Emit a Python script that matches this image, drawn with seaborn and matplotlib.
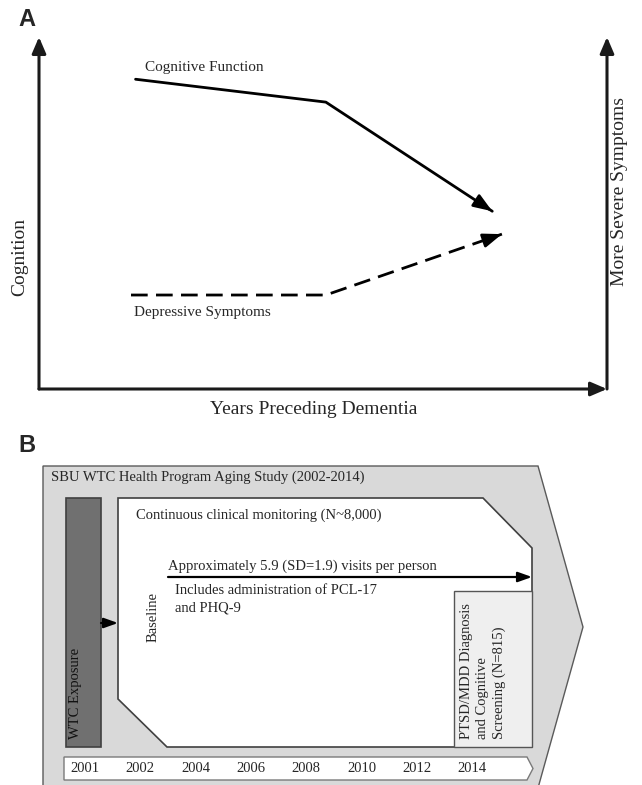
import numpy as np
import pandas as pd
import matplotlib
matplotlib.use("Agg")
import matplotlib.pyplot as plt
from matplotlib.patches import Polygon, Rectangle
import seaborn as sns

# Panel A: skema lintasan (satuan bebas, 0-10 di kedua sumbu)
waktu_kognisi = [1.7, 5.05, 7.98]
nilai_kognisi = [8.8, 8.15, 5.05]
waktu_depresi = [1.62, 5.05, 8.15]
nilai_depresi = [2.67, 2.67, 4.4]

# Panel B: garis waktu studi
tahun = ["2001", "2002", "2004", "2006", "2008", "2010", "2012", "2014"]
judul_studi = "SBU WTC Health Program Aging Study (2002-2014)"
teks_monitoring = "Continuous clinical monitoring (N~8,000)"
teks_kunjungan = "Approximately 5.9 (SD=1.9) visits per person"
teks_instrumen = ["Includes administration of PCL-17", "and PHQ-9"]
teks_skrining = "PTSD/MDD Diagnosis\nand Cognitive\nScreening (N=815)"

W, H = 642, 785

sns.set_theme(style="white")
plt.rcParams["font.family"] = ["Liberation Serif", "DejaVu Serif"]


def px(x, y):
    """koordinat piksel (atas-kiri) -> fraksi figure"""
    return x / W, 1 - y / H


def pasang_panah(ax, xs, ys, lw=2.0):
    # kepala panah di ujung garis, searah segmen terakhir
    ujung = np.array([xs[-1], ys[-1]])
    sebelum = np.array([xs[-2], ys[-2]])
    ekor = ujung - 0.08 * (ujung - sebelum)
    ax.annotate("", xy=ujung, xytext=ekor,
                arrowprops=dict(arrowstyle="-|>,head_length=0.8,head_width=0.3",
                                color="black", lw=lw, shrinkA=0, shrinkB=0,
                                mutation_scale=14))


fig = plt.figure(figsize=(W / 100, H / 100), dpi=100)

# ---------------- Panel A ----------------
ax_a = fig.add_axes([39 / W, 1 - 389 / H, 568 / W, 352 / H])
ax_a.set_xlim(0, 10)
ax_a.set_ylim(0, 10)
ax_a.axis("off")

df_kog = pd.DataFrame({"x": waktu_kognisi, "y": nilai_kognisi})
df_dep = pd.DataFrame({"x": waktu_depresi, "y": nilai_depresi})
sns.lineplot(data=df_kog, x="x", y="y", ax=ax_a, color="black", linewidth=2.0, sort=False)
sns.lineplot(data=df_dep, x="x", y="y", ax=ax_a, color="black", linewidth=2.0, sort=False)
ax_a.lines[-1].set_dashes([6, 3])
ax_a.lines[-1].set_dash_capstyle("butt")
pasang_panah(ax_a, waktu_kognisi, nilai_kognisi)
pasang_panah(ax_a, waktu_depresi, nilai_depresi)

gaya_sumbu = dict(arrowstyle="-|>,head_length=0.7,head_width=0.3", color="#1a1a1a",
                  lw=2.2, shrinkA=0, shrinkB=0, mutation_scale=14)
for awal, akhir in [((0, 0), (0, 1)), ((0, 0), (1, 0)), ((1, 0), (1, 1))]:
    ax_a.annotate("", xy=akhir, xytext=awal, xycoords="axes fraction",
                  textcoords="axes fraction", arrowprops=gaya_sumbu)

ax_a.text(1.87, 9.12, "Cognitive Function", fontsize=11, va="center", ha="left")
ax_a.text(1.67, 2.16, "Depressive Symptoms", fontsize=11, va="center", ha="left")

fig.text(*px(20, 257), "Cognition", rotation=90, fontsize=14, ha="center", va="center")
fig.text(*px(620, 192), "More Severe Symptoms", rotation=90, fontsize=14, ha="center", va="center")
fig.text(*px(314, 409), "Years Preceding Dementia", fontsize=14, ha="center", va="center")

fig.text(*px(18, 20), "A", fontsize=17, fontweight="bold", family="Liberation Sans", va="center")
fig.text(*px(18, 446), "B", fontsize=17, fontweight="bold", family="Liberation Sans", va="center")

# ---------------- Panel B ----------------
ax_b = fig.add_axes([0, 0, 1, 365 / H])
ax_b.set_xlim(0, W)
ax_b.set_ylim(H, 420)
ax_b.axis("off")

ax_b.add_patch(Polygon([(43, 466), (538, 466), (583, 627), (538, 788), (43, 788)],
                       closed=True, facecolor="#d9d9d9", edgecolor="#5a5a5a", lw=1.0, zorder=1))
ax_b.add_patch(Rectangle((66, 498), 35, 249, facecolor="#707070", edgecolor="#404040",
                         lw=1.2, zorder=2))
ax_b.add_patch(Polygon([(118, 498), (483, 498), (532, 548), (532, 747), (167, 747), (118, 699)],
                       closed=True, facecolor="white", edgecolor="#404040", lw=1.2, zorder=2))
ax_b.add_patch(Rectangle((454, 591), 78, 156, facecolor="#efefef", edgecolor="#555555",
                         lw=1.0, zorder=3))
ax_b.add_patch(Polygon([(64, 757), (527, 757), (533, 768.5), (527, 780), (64, 780)],
                       closed=True, facecolor="white", edgecolor="#7a7a7a", lw=1.0, zorder=2))

panah_b = dict(arrowstyle="-|>,head_length=0.7,head_width=0.25", color="black",
               lw=1.6, shrinkA=0, shrinkB=0, mutation_scale=12)
ax_b.annotate("", xy=(532, 577), xytext=(168, 577), arrowprops=panah_b, zorder=4)
ax_b.annotate("", xy=(118, 623), xytext=(101, 623), arrowprops=panah_b, zorder=4)

fs_b = 10.5
ax_b.text(51, 477, judul_studi, fontsize=fs_b, va="center", ha="left", zorder=5)
ax_b.text(136, 515, teks_monitoring, fontsize=fs_b, va="center", ha="left", zorder=5)
ax_b.text(168, 566, teks_kunjungan, fontsize=fs_b, va="center", ha="left", zorder=5)
for i, baris in enumerate(teks_instrumen):
    ax_b.text(175, 591 + 17 * i, baris, fontsize=fs_b, va="center", ha="left", zorder=5)
ax_b.text(153, 642, "Baseline", rotation=90, fontsize=fs_b, va="bottom", ha="center", zorder=5)
ax_b.text(76, 739, "WTC Exposure", rotation=90, fontsize=fs_b, va="bottom", ha="center",
          color="#111111", zorder=5)
ax_b.text(483, 739, teks_skrining, rotation=90, fontsize=fs_b, va="bottom", ha="center",
          multialignment="left", linespacing=1.3, zorder=5)

posisi_tahun = 85 + 55.3 * np.arange(len(tahun))
for xt, label in zip(posisi_tahun, tahun):
    ax_b.text(xt, 768.5, label, fontsize=fs_b, va="center", ha="center", zorder=5)

fig.savefig("out.png", dpi=100)
